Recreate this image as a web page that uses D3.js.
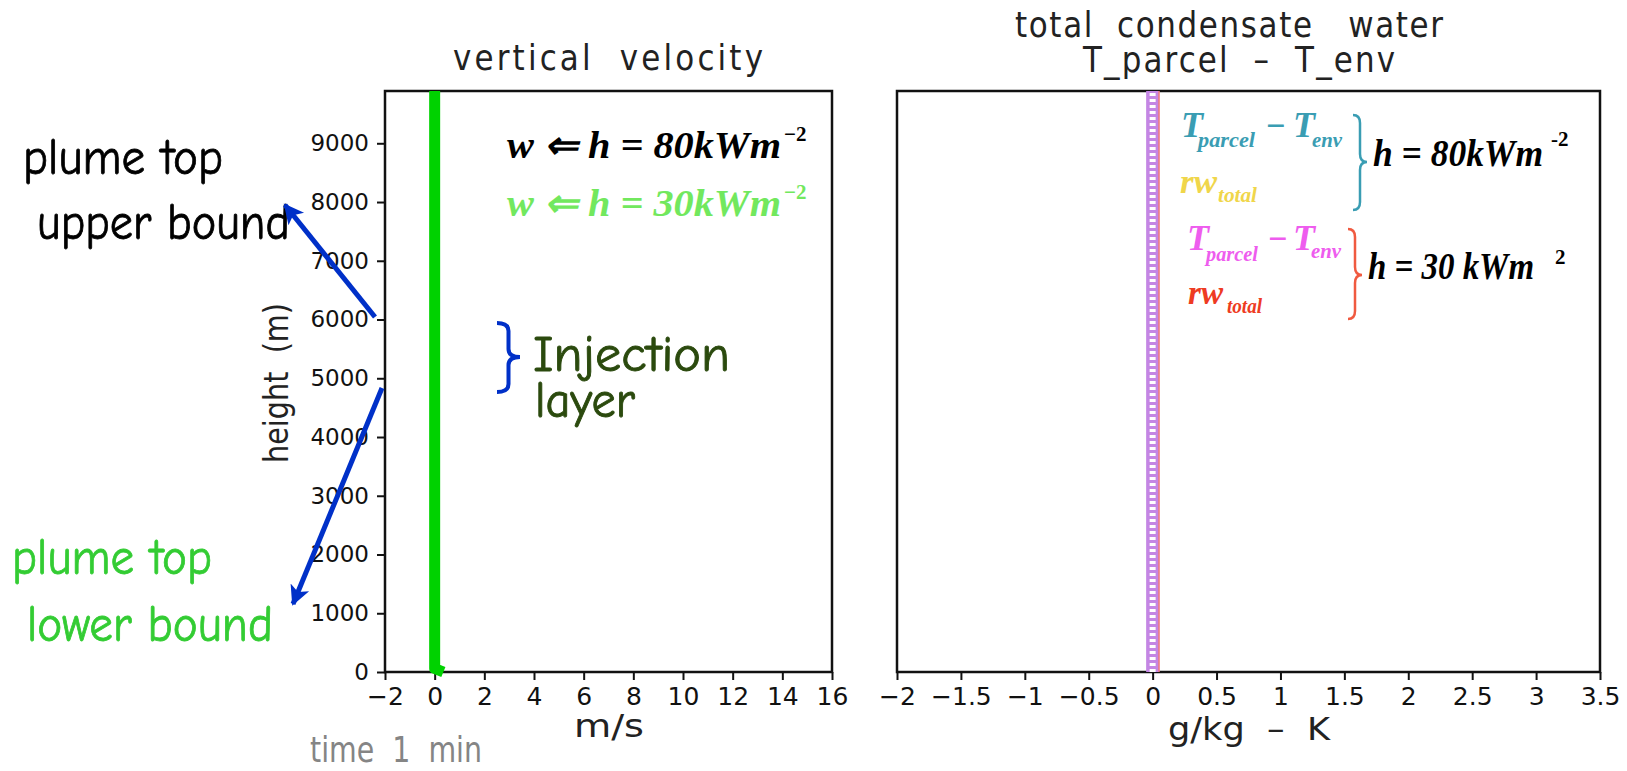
<!DOCTYPE html>
<html>
<head>
<meta charset="utf-8">
<script src="https://cdn.jsdelivr.net/npm/d3@7"></script>
<style>
	body { margin: 0; background: #fff; }
	svg { display: block; }
	text { white-space: pre; }
</style>
</head>
<body>
<div id="chart"></div>
<script>
// values
const wHeights = [0, 60, 1000, 2000, 3000, 4000, 5000, 6000, 7000, 8000, 9000, 9890]
const w30 = [0.35, 0, 0, 0, 0, 0, 0, 0, 0, 0, 0, 0]
const profHeights = [0, 1000, 2000, 3000, 4000, 5000, 6000, 7000, 8000, 9000, 9890]
const tDiff30 = [0, 0, 0, 0, 0, 0, 0, 0, 0, 0, 0]
const rw30 = [0.05, 0.05, 0.05, 0.05, 0.05, 0.05, 0.05, 0.05, 0.05, 0.05, 0.05]
const heightTicks = [0, 1000, 2000, 3000, 4000, 5000, 6000, 7000, 8000, 9000]
const wTicks = [-2, 0, 2, 4, 6, 8, 10, 12, 14, 16]
const condTicks = [-2, -1.5, -1, -0.5, 0, 0.5, 1, 1.5, 2, 2.5, 3, 3.5]
const condTickLabels = ['−2', '−1.5', '−1', '−0.5', '0', '0.5', '1', '1.5', '2', '2.5', '3', '3.5']
const heightDomain = [0, 9890]
const wDomain = [-2, 16]
const condDomain = [-2, 3.5]

const width = 1627
const height = 771
const grads = '"DejaVu Sans", sans-serif'
const serif = '"Liberation Serif", "Times New Roman", serif'
const comic = '"Comic Sans MS", "Comic Neue", "DejaVu Sans", sans-serif'

const svg = d3.select('#chart').append('svg').attr('width', width).attr('height', height)

const defs = svg.append('defs')
defs.append('marker')
	.attr('id', 'head')
	.attr('viewBox', '0 0 10 10')
	.attr('refX', 9)
	.attr('refY', 5)
	.attr('markerUnits', 'userSpaceOnUse')
	.attr('markerWidth', 24)
	.attr('markerHeight', 20)
	.attr('orient', 'auto')
	.append('path')
	.attr('d', 'M0,0 L10,5 L0,10 L2.5,5 Z')
	.attr('fill', '#0030c8')

// scales
const y = d3.scaleLinear().domain(heightDomain).range([672, 91])
const xL = d3.scaleLinear().domain(wDomain).range([385, 832])
const xR = d3.scaleLinear().domain(condDomain).range([897, 1600])

function label(g, o) {
	const t = g.append('text')
		.attr('font-family', o.font || grads)
		.attr('font-size', o.size)
		.attr('fill', o.fill || '#1a1a1a')
		.text(o.t)
	if (o.sy) {
		t.attr('x', 0).attr('y', 0)
			.attr('transform', `translate(${o.x},${o.y}) rotate(${o.rotate || 0}) scale(1,${o.sy})`)
	} else {
		t.attr('x', o.x).attr('y', o.y)
		if (o.rotate) t.attr('transform', `rotate(${o.rotate},${o.x},${o.y})`)
	}
	if (o.weight) t.attr('font-weight', o.weight)
	if (o.italic) t.attr('font-style', 'italic')
	if (o.len) t.attr('textLength', o.len).attr('lengthAdjust', o.adjust || 'spacingAndGlyphs')
	if (o.anchor) t.attr('text-anchor', o.anchor)
	if (o.thick) t.attr('stroke', o.fill).attr('stroke-width', o.thick)
	return t
}

function brace(g, x0, y0, y1, x1, ym, color, sw) {
	const xm = (x0 + x1) / 2
	const r = Math.min(8, (y1 - y0) / 6)
	const d = `M${x0},${y0} Q${xm},${y0} ${xm},${y0 + r} L${xm},${ym - r} Q${xm},${ym} ${x1},${ym}` +
		` Q${xm},${ym} ${xm},${ym + r} L${xm},${y1 - r} Q${xm},${y1} ${x0},${y1}`
	g.append('path').attr('d', d).attr('fill', 'none').attr('stroke', color).attr('stroke-width', sw)
}

function styleAxis(g, size) {
	g.select('.domain').remove()
	g.selectAll('.tick line').attr('stroke', '#111').attr('stroke-width', 2)
	g.selectAll('.tick text').attr('font-family', grads).attr('font-size', size).attr('fill', '#111')
}

// ---- left panel: vertical velocity
const left = svg.append('g')

left.append('g')
	.attr('transform', 'translate(385,0)')
	.call(d3.axisLeft(y).tickValues(heightTicks).tickSize(8).tickSizeOuter(0).tickPadding(8).tickFormat(d3.format('d')))
	.call((g) => styleAxis(g, 23))

left.append('g')
	.attr('transform', 'translate(0,672)')
	.call(d3.axisBottom(xL).tickValues(wTicks).tickSize(8).tickSizeOuter(0).tickPadding(7))
	.call((g) => styleAxis(g, 25))

left.append('rect')
	.attr('x', xL(wDomain[0])).attr('y', y(heightDomain[1]))
	.attr('width', xL(wDomain[1]) - xL(wDomain[0]))
	.attr('height', y(heightDomain[0]) - y(heightDomain[1]))
	.attr('fill', 'none').attr('stroke', '#111').attr('stroke-width', 2.5)

const wLine = d3.line().x((d) => xL(d[0])).y((d) => y(d[1]))
left.append('path')
	.datum(w30.map((v, i) => [v, wHeights[i]]))
	.attr('d', wLine)
	.attr('fill', 'none')
	.attr('stroke', '#00d200')
	.attr('stroke-width', 11)
	.attr('stroke-linejoin', 'round')

label(left, { t: 'vertical  velocity', x: 453, y: 70, size: 31, sy: 1.15, len: 310, adjust: 'spacing', fill: '#222' })
label(left, { t: 'm/s', x: 574, y: 737, size: 28, sy: 1.15, len: 70, fill: '#222' })
label(left, { t: 'height  (m)', x: 288, y: 383, size: 29, sy: 1.15, len: 160, anchor: 'middle', rotate: -90, fill: '#222' })
label(left, { t: 'time  1  min', x: 310, y: 762, size: 29, sy: 1.2, len: 172, fill: '#858585' })

// legend in the left panel
label(left, { t: 'w ⇐ h = 80kWm', x: 507, y: 158, size: 38, len: 274, font: serif, weight: 'bold', italic: true, fill: '#000' })
label(left, { t: '−2', x: 784, y: 141, size: 21, font: serif, weight: 'bold', fill: '#000' })
label(left, { t: 'w ⇐ h = 30kWm', x: 507, y: 216, size: 38, len: 274, font: serif, weight: 'bold', italic: true, fill: '#72e85e' })
label(left, { t: '−2', x: 784, y: 199, size: 21, font: serif, weight: 'bold', fill: '#72e85e' })

// annotations to the left
label(svg, { t: 'plume top', x: 23, y: 174, size: 50, len: 200, font: comic, fill: '#000', thick: 0.8 })
label(svg, { t: 'upper bound', x: 37, y: 239, size: 50, len: 253, font: comic, fill: '#000', thick: 0.8 })
label(svg, { t: 'plume top', x: 12, y: 574, size: 50, len: 200, font: comic, fill: '#33cc33', thick: 0.8 })
label(svg, { t: 'lower bound', x: 27, y: 641, size: 50, len: 246, font: comic, fill: '#33cc33', thick: 0.8 })
label(svg, { t: 'Injection', x: 533, y: 371, size: 50, len: 197, font: comic, fill: '#2b4a0e', thick: 0.9 })
label(svg, { t: 'layer', x: 535, y: 417, size: 50, len: 100, font: comic, fill: '#2b4a0e', thick: 0.9 })

svg.append('line').attr('x1', 375).attr('y1', 317).attr('x2', 285).attr('y2', 205)
	.attr('stroke', '#0030c8').attr('stroke-width', 5).attr('marker-end', 'url(#head)')
svg.append('line').attr('x1', 382).attr('y1', 388).attr('x2', 293).attr('y2', 604)
	.attr('stroke', '#0030c8').attr('stroke-width', 5).attr('marker-end', 'url(#head)')
brace(svg, 497, 323, 392, 520, 357, '#0030c8', 4)

// ---- right panel: condensate / temperature difference
const right = svg.append('g')

right.append('g')
	.attr('transform', 'translate(0,672)')
	.call(d3.axisBottom(xR).tickValues(condTicks).tickSize(8).tickSizeOuter(0).tickPadding(7)
		.tickFormat((d, i) => condTickLabels[i]))
	.call((g) => styleAxis(g, 25))

right.append('rect')
	.attr('x', xR(condDomain[0])).attr('y', y(heightDomain[1]))
	.attr('width', xR(condDomain[1]) - xR(condDomain[0]))
	.attr('height', y(heightDomain[0]) - y(heightDomain[1]))
	.attr('fill', 'none').attr('stroke', '#111').attr('stroke-width', 2.5)

const rLine = d3.line().x((d) => xR(d[0])).y((d) => y(d[1]))
const tPts = tDiff30.map((v, i) => [v, profHeights[i]])
right.append('path').datum(tPts).attr('d', rLine)
	.attr('fill', 'none').attr('stroke', '#c486e4').attr('stroke-width', 13)
right.append('path').datum(tPts).attr('d', rLine)
	.attr('fill', 'none').attr('stroke', '#fff').attr('stroke-width', 6).attr('stroke-dasharray', '3 3')
right.append('path').datum(rw30.map((v, i) => [v, profHeights[i]])).attr('d', rLine)
	.attr('fill', 'none').attr('stroke', '#f27a7a').attr('stroke-width', 1.5)

label(right, { t: 'total  condensate   water', x: 1015, y: 37, size: 31, sy: 1.15, len: 428, adjust: 'spacing', fill: '#222' })
label(right, { t: 'T_parcel  –  T_env', x: 1083, y: 72, size: 31, sy: 1.15, len: 312, adjust: 'spacing', fill: '#222' })
label(right, { t: 'g/kg  –  K', x: 1168, y: 740, size: 28, sy: 1.15, len: 162, fill: '#222' })

// legend in the right panel
const lg = { font: serif, weight: 'bold', italic: true }
const teal = '#3a9db3'
const yellow = '#f0d64a'
const pink = '#ee5cee'
const red = '#ee3b22'
label(right, { ...lg, t: 'T', x: 1181, y: 137, size: 36, fill: teal })
label(right, { ...lg, t: 'parcel', x: 1198, y: 147, size: 22, len: 57, fill: teal })
label(right, { ...lg, t: '−', x: 1266, y: 137, size: 34, fill: teal, italic: false })
label(right, { ...lg, t: 'T', x: 1293, y: 137, size: 36, fill: teal })
label(right, { ...lg, t: 'env', x: 1312, y: 147, size: 22, len: 30, fill: teal })
label(right, { ...lg, t: 'rw', x: 1180, y: 193, size: 34, len: 37, fill: yellow })
label(right, { ...lg, t: 'total', x: 1218, y: 202, size: 22, len: 39, fill: yellow })
brace(right, 1353, 115, 210, 1367, 162, teal, 2.5)
label(right, { ...lg, t: 'h = 80kWm', x: 1373, y: 166, size: 38, len: 170, fill: '#000' })
label(right, { t: '-2', x: 1551, y: 146, size: 21, font: serif, weight: 'bold', fill: '#000' })

label(right, { ...lg, t: 'T', x: 1187, y: 250, size: 36, fill: pink })
label(right, { ...lg, t: 'parcel', x: 1206, y: 261, size: 22, len: 52, fill: pink })
label(right, { ...lg, t: '−', x: 1268, y: 250, size: 34, fill: pink, italic: false })
label(right, { ...lg, t: 'T', x: 1293, y: 250, size: 36, fill: pink })
label(right, { ...lg, t: 'env', x: 1311, y: 258, size: 22, len: 30, fill: pink })
label(right, { ...lg, t: 'rw', x: 1188, y: 304, size: 34, len: 35, fill: red })
label(right, { ...lg, t: 'total', x: 1227, y: 313, size: 22, len: 35, fill: red })
brace(right, 1348, 229, 319, 1362, 275, '#f05a40', 2.5)
label(right, { ...lg, t: 'h = 30 kWm', x: 1368, y: 279, size: 38, len: 166, fill: '#000' })
label(right, { t: '2', x: 1555, y: 264, size: 21, font: serif, weight: 'bold', fill: '#000' })
</script>
</body>
</html>
